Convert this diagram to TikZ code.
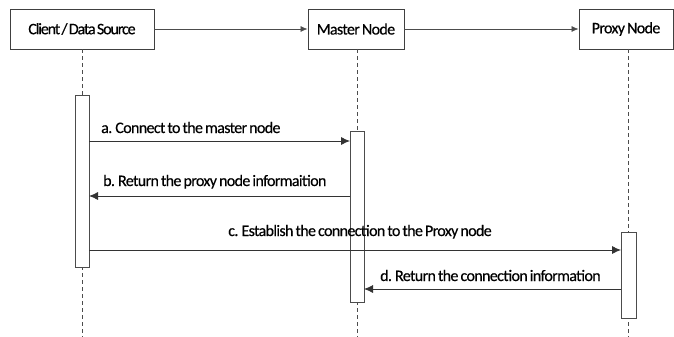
\documentclass[tikz,border=0pt]{standalone}
\usepackage{fontspec}
\setmainfont{Carlito}[FakeBold=0.4,LetterSpace=-4,WordSpace=0.7]
\newfontfamily\clientfont{Carlito}[FakeBold=0.4,LetterSpace=-7,WordSpace=0.5]
\usetikzlibrary{arrows.meta}
\begin{document}
\begin{tikzpicture}[x=1pt,y=-1pt,
  actor/.style={draw=black!75,line width=0.9pt,minimum height=40pt,inner sep=0pt,font=\fontsize{16}{18}\selectfont},
  lifeline/.style={draw=black!70,line width=0.8pt,dash pattern=on 4pt off 3pt},
  activation/.style={draw=black!70,fill=white,line width=0.8pt},
  toparrow/.style={draw=black!70,line width=0.7pt,-{Latex[length=7pt,width=6pt]}},
  msg/.style={draw=black!80,line width=0.8pt,-{Latex[length=9pt,width=8pt]}},
  msglabel/.style={font=\fontsize{16}{18}\selectfont,inner sep=0pt}]
\useasboundingbox (0,0) rectangle (674,337);
% participants
\node[actor,minimum width=144pt] (client) at (82,29) {\clientfont Client / Data Source};
\node[actor,minimum width=96pt] (master) at (356,29) {Master Node};
\node[actor,minimum width=94pt] (proxy) at (626,29) {Proxy Node};
\draw[toparrow] (client.east) -- (master.west);
\draw[toparrow] (master.east) -- (proxy.west);
% lifelines
\coordinate (cEnd) at (82,337);
\coordinate (mEnd) at (357,337);
\coordinate (pEnd) at (628,337);
\draw[lifeline] (client.south) -- (cEnd);
\draw[lifeline] (357,49) coordinate (mTop) -- (mEnd);
\draw[lifeline] (628,49) coordinate (pTop) -- (pEnd);
% activation bars
\draw[activation] (75,95) rectangle (89,267);
\draw[activation] (350,131) rectangle (364,302);
\draw[activation] (621,232) rectangle (636,318);
% messages
\coordinate (a1) at (89,141); \coordinate (a2) at (350,141);
\coordinate (b1) at (350,196); \coordinate (b2) at (89,196);
\coordinate (c1) at (89,250); \coordinate (c2) at (621,250);
\coordinate (d1) at (621,289); \coordinate (d2) at (364,289);
\draw[msg] (a1) -- (a2);
\draw[msg] (b1) -- (b2);
\draw[msg] (c1) -- (c2);
\draw[msg] (d1) -- (d2);
\node[msglabel,anchor=base west] (la) at (101,133) {a. Connect to the master node};
\node[msglabel,anchor=base west] (lb) at (103,186) {b. Return the proxy node informaition};
\node[msglabel,anchor=base] (lc) at (360,236) {c. Establish the connection to the Proxy node};
\node[msglabel,anchor=base west] (ld) at (380,281) {d. Return the connection information};
\end{tikzpicture}
\end{document}
